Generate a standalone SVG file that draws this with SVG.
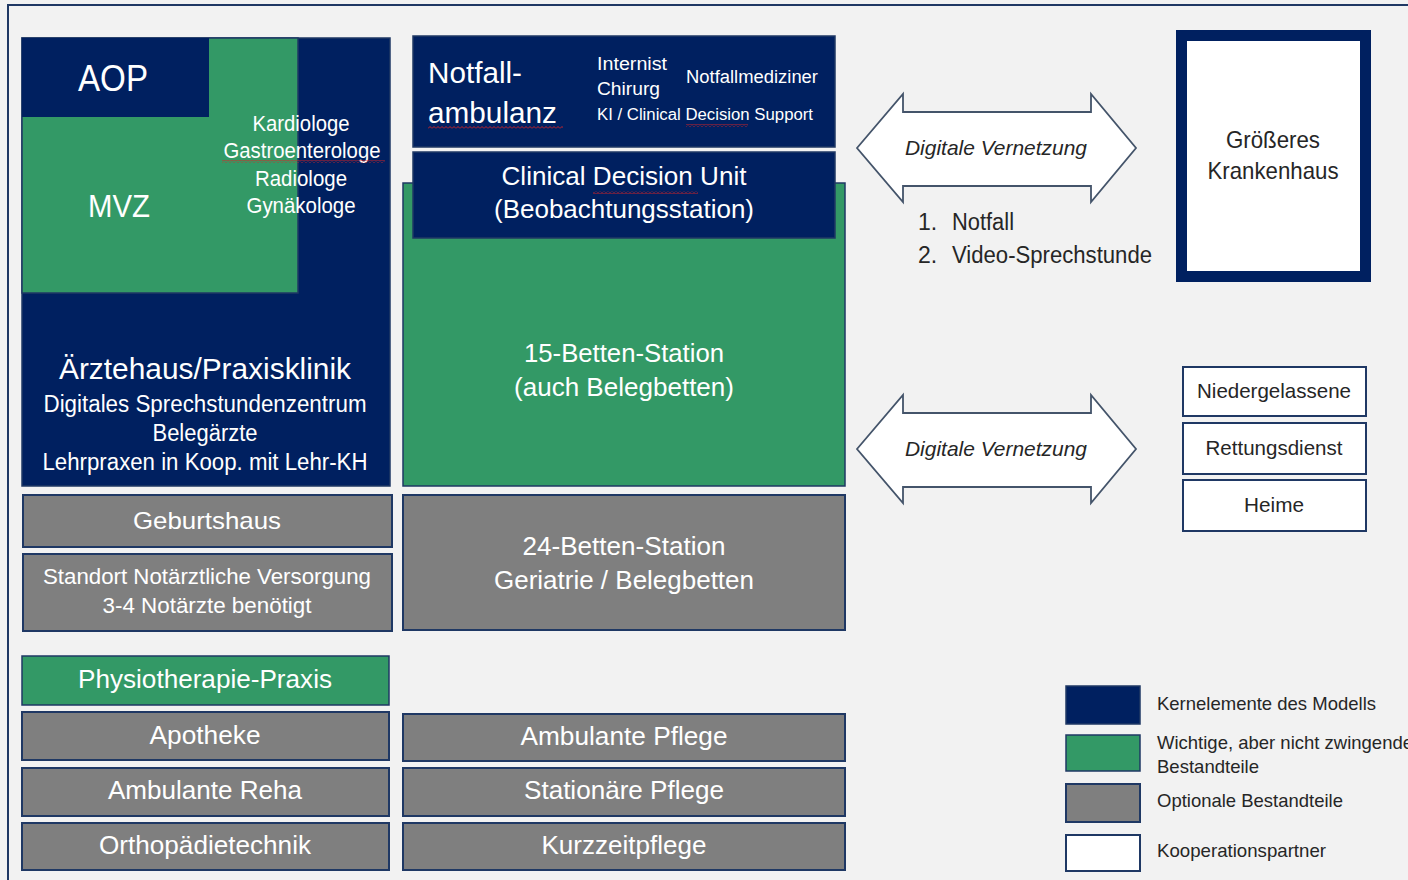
<svg xmlns="http://www.w3.org/2000/svg" width="1408" height="880" viewBox="0 0 1408 880">
<style>
text{font-family:"Liberation Sans",Arial,sans-serif;}
.w{fill:#ffffff;text-anchor:middle;}
.d{fill:#262626;}
.dm{fill:#262626;text-anchor:middle;}
.navy{fill:#002060;stroke:#1f3864;stroke-width:1.5;}
.green{fill:#339966;stroke:#1f3864;stroke-width:1.5;}
.grey{fill:#7f7f7f;stroke:#1f3864;stroke-width:2;}
.white{fill:#ffffff;stroke:#1f3864;stroke-width:2;}
.arrow{fill:#ffffff;stroke:#44546a;stroke-width:1.8;}
.it{font-style:italic;}
</style>
<defs>
<pattern id="wavy" width="4" height="3" patternUnits="userSpaceOnUse">
<polyline points="0,2.5 2,0.5 4,2.5" fill="none" stroke="#e02020" stroke-width="0.9"/>
</pattern>
</defs>
<rect x="0" y="0" width="1408" height="880" fill="#f2f2f2"/>
<rect x="8" y="5" width="1420" height="900" fill="#f2f2f2" stroke="#1f3864" stroke-width="2"/>

<g id="aerztehaus">
<rect class="navy" x="22" y="38" width="368" height="448"/>
<text class="w" x="205" y="379" font-size="29" textLength="292" lengthAdjust="spacingAndGlyphs">Ärztehaus/Praxisklinik</text>
<text class="w" x="205" y="412" font-size="23" textLength="323" lengthAdjust="spacingAndGlyphs">Digitales Sprechstundenzentrum</text>
<text class="w" x="205" y="441" font-size="23" textLength="105" lengthAdjust="spacingAndGlyphs">Belegärzte</text>
<text class="w" x="205" y="470" font-size="23" textLength="325" lengthAdjust="spacingAndGlyphs">Lehrpraxen in Koop. mit Lehr-KH</text>
</g>
<g id="mvz">
<rect class="green" x="22" y="38" width="276" height="255"/>
<text class="w" x="119" y="217" font-size="31" textLength="62" lengthAdjust="spacingAndGlyphs">MVZ</text>
</g>
<g id="aop">
<rect x="22" y="38" width="187" height="79" fill="#002060"/>
<text class="w" x="113" y="91" font-size="37" textLength="70" lengthAdjust="spacingAndGlyphs">AOP</text>
</g>
<g id="fachaerzte">
<text class="w" x="301" y="131" font-size="22" textLength="97" lengthAdjust="spacingAndGlyphs">Kardiologe</text>
<text class="w" x="302" y="158" font-size="22" textLength="157" lengthAdjust="spacingAndGlyphs">Gastroenterologe</text>
<text class="w" x="301" y="186" font-size="22" textLength="92" lengthAdjust="spacingAndGlyphs">Radiologe</text>
<text class="w" x="301" y="213" font-size="22" textLength="109" lengthAdjust="spacingAndGlyphs">Gynäkologe</text>
</g>

<g id="betten15">
<rect class="green" x="403" y="183" width="442" height="303"/>
<text class="w" x="624" y="362" font-size="26" textLength="200" lengthAdjust="spacingAndGlyphs">15-Betten-Station</text>
<text class="w" x="624" y="396" font-size="26" textLength="220" lengthAdjust="spacingAndGlyphs">(auch Belegbetten)</text>
</g>
<g id="notfallambulanz">
<rect class="navy" x="413" y="36" width="422" height="111"/>
<text x="428" y="83" font-size="29" fill="#ffffff" textLength="94" lengthAdjust="spacingAndGlyphs">Notfall-</text>
<text x="428" y="123" font-size="29" fill="#ffffff" textLength="129" lengthAdjust="spacingAndGlyphs">ambulanz</text>
<text x="597" y="70" font-size="18" fill="#ffffff" textLength="70" lengthAdjust="spacingAndGlyphs">Internist</text>
<text x="597" y="95" font-size="18" fill="#ffffff" textLength="63" lengthAdjust="spacingAndGlyphs">Chirurg</text>
<text x="686" y="83" font-size="18" fill="#ffffff" textLength="132" lengthAdjust="spacingAndGlyphs">Notfallmediziner</text>
<text x="597" y="120" font-size="16" fill="#ffffff" textLength="216" lengthAdjust="spacingAndGlyphs">KI / Clinical Decision Support</text>
</g>
<g id="cdu">
<rect class="navy" x="413" y="152" width="422" height="86"/>
<text class="w" x="624" y="185" font-size="26" textLength="245" lengthAdjust="spacingAndGlyphs">Clinical Decision Unit</text>
<text class="w" x="624" y="218" font-size="26" textLength="260" lengthAdjust="spacingAndGlyphs">(Beobachtungsstation)</text>
</g>

<g id="geburtshaus">
<rect class="grey" x="23" y="495" width="369" height="52"/>
<text class="w" x="207" y="529" font-size="24" textLength="148" lengthAdjust="spacingAndGlyphs">Geburtshaus</text>
</g>
<g id="notarzt">
<rect class="grey" x="23" y="554" width="369" height="77"/>
<text class="w" x="207" y="584" font-size="22" textLength="328" lengthAdjust="spacingAndGlyphs">Standort Notärztliche Versorgung</text>
<text class="w" x="207" y="613" font-size="22" textLength="209" lengthAdjust="spacingAndGlyphs">3-4 Notärzte benötigt</text>
</g>
<g id="betten24">
<rect class="grey" x="403" y="495" width="442" height="135"/>
<text class="w" x="624" y="555" font-size="26" textLength="203" lengthAdjust="spacingAndGlyphs">24-Betten-Station</text>
<text class="w" x="624" y="589" font-size="26" textLength="260" lengthAdjust="spacingAndGlyphs">Geriatrie / Belegbetten</text>
</g>

<g id="physio">
<rect class="green" x="22" y="656" width="367" height="49"/>
<text class="w" x="205" y="688" font-size="25" textLength="254" lengthAdjust="spacingAndGlyphs">Physiotherapie-Praxis</text>
</g>
<g id="apotheke">
<rect class="grey" x="22" y="712" width="367" height="48"/>
<text class="w" x="205" y="744" font-size="25" textLength="111" lengthAdjust="spacingAndGlyphs">Apotheke</text>
</g>
<g id="reha">
<rect class="grey" x="22" y="768" width="367" height="48"/>
<text class="w" x="205" y="799" font-size="25" textLength="194" lengthAdjust="spacingAndGlyphs">Ambulante Reha</text>
</g>
<g id="ortho">
<rect class="grey" x="22" y="823" width="367" height="47"/>
<text class="w" x="205" y="854" font-size="25" textLength="212" lengthAdjust="spacingAndGlyphs">Orthopädietechnik</text>
</g>
<g id="ambpflege">
<rect class="grey" x="403" y="714" width="442" height="47"/>
<text class="w" x="624" y="745" font-size="25" textLength="207" lengthAdjust="spacingAndGlyphs">Ambulante Pflege</text>
</g>
<g id="statpflege">
<rect class="grey" x="403" y="768" width="442" height="48"/>
<text class="w" x="624" y="799" font-size="25" textLength="200" lengthAdjust="spacingAndGlyphs">Stationäre Pflege</text>
</g>
<g id="kurzzeit">
<rect class="grey" x="403" y="823" width="442" height="47"/>
<text class="w" x="624" y="854" font-size="25" textLength="165" lengthAdjust="spacingAndGlyphs">Kurzzeitpflege</text>
</g>

<g id="connectors">
<polygon class="arrow" points="857,148 903,94 903,112 1091,112 1091,94 1136,148 1091,202 1091,186 903,186 903,202"/>
<text class="dm it" x="996" y="155" font-size="21" textLength="182" lengthAdjust="spacingAndGlyphs">Digitale Vernetzung</text>
<polygon class="arrow" points="857,449 903,395 903,413 1091,413 1091,395 1136,449 1091,503 1091,487 903,487 903,503"/>
<text class="dm it" x="996" y="456" font-size="21" textLength="182" lengthAdjust="spacingAndGlyphs">Digitale Vernetzung</text>
</g>

<g id="liste">
<text class="d" x="918" y="230" font-size="23">1.</text>
<text class="d" x="952" y="230" font-size="23" textLength="62" lengthAdjust="spacingAndGlyphs">Notfall</text>
<text class="d" x="918" y="263" font-size="23">2.</text>
<text class="d" x="952" y="263" font-size="23" textLength="200" lengthAdjust="spacingAndGlyphs">Video-Sprechstunde</text>
</g>

<g id="krankenhaus">
<rect x="1181.5" y="35.5" width="184" height="241" fill="#ffffff" stroke="#002060" stroke-width="11"/>
<text class="dm" x="1273" y="148" font-size="24" textLength="94" lengthAdjust="spacingAndGlyphs">Größeres</text>
<text class="dm" x="1273" y="179" font-size="24" textLength="131" lengthAdjust="spacingAndGlyphs">Krankenhaus</text>
</g>
<g id="niedergelassene">
<rect class="white" x="1183" y="367" width="183" height="49"/>
<text class="dm" x="1274" y="398" font-size="21" textLength="154" lengthAdjust="spacingAndGlyphs">Niedergelassene</text>
</g>
<g id="rettungsdienst">
<rect class="white" x="1183" y="423" width="183" height="51"/>
<text class="dm" x="1274" y="455" font-size="21" textLength="137" lengthAdjust="spacingAndGlyphs">Rettungsdienst</text>
</g>
<g id="heime">
<rect class="white" x="1183" y="480" width="183" height="51"/>
<text class="dm" x="1274" y="512" font-size="21" textLength="60" lengthAdjust="spacingAndGlyphs">Heime</text>
</g>

<g id="legend">
<rect class="navy" x="1066" y="686" width="74" height="38"/>
<rect class="green" x="1066" y="735" width="74" height="36"/>
<rect class="grey" x="1066" y="784" width="74" height="38" stroke-width="1.5"/>
<rect class="white" x="1066" y="835" width="74" height="36" stroke-width="1.5"/>
<text class="d" x="1157" y="710" font-size="19" textLength="219" lengthAdjust="spacingAndGlyphs">Kernelemente des Modells</text>
<text class="d" x="1157" y="749" font-size="19" textLength="256" lengthAdjust="spacingAndGlyphs">Wichtige, aber nicht zwingende</text>
<text class="d" x="1157" y="773" font-size="19" textLength="102" lengthAdjust="spacingAndGlyphs">Bestandteile</text>
<text class="d" x="1157" y="807" font-size="19" textLength="186" lengthAdjust="spacingAndGlyphs">Optionale Bestandteile</text>
<text class="d" x="1157" y="857" font-size="19" textLength="169" lengthAdjust="spacingAndGlyphs">Kooperationspartner</text>
</g>

<g id="spellcheck">
<rect x="222" y="160" width="163" height="3" fill="url(#wavy)"/>
<rect x="428" y="126" width="135" height="3" fill="url(#wavy)"/>
<rect x="686" y="124" width="62" height="3" fill="url(#wavy)"/>
<rect x="593" y="191" width="105" height="3" fill="url(#wavy)"/>
</g>
</svg>
